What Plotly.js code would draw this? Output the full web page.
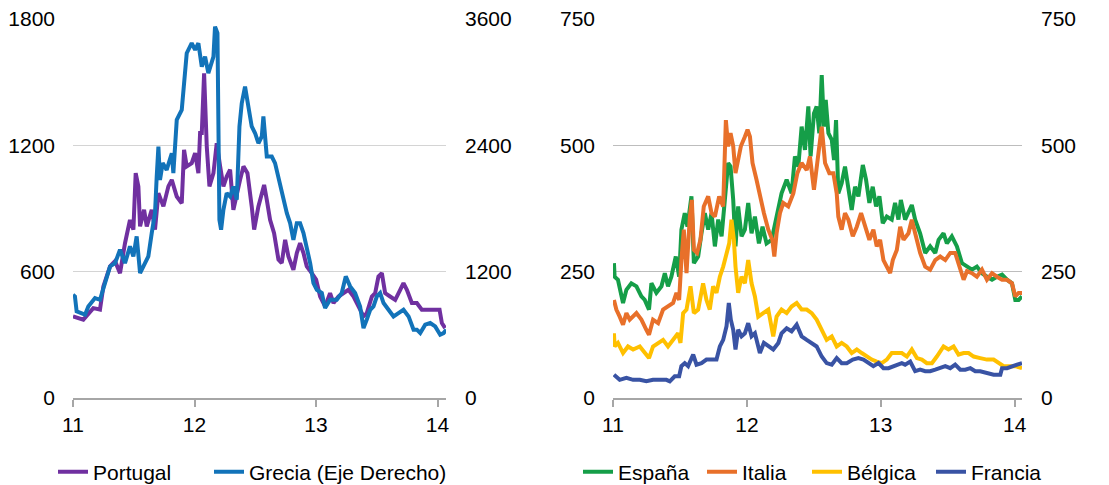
<!DOCTYPE html>
<html>
<head>
<meta charset="utf-8">
<script src="https://cdn.plot.ly/plotly-3.0.1.min.js"></script>
<style>html,body{margin:0;padding:0;background:#fff;}#chart{width:1109px;height:485px;}</style>
</head>
<body>
<div id="chart"></div>
<script>
// ---- Left panel: Portugal (left axis) and Grecia (right axis) ----
const portugalX = [11.000,11.085,11.167,11.222,11.250,11.305,11.346,11.387,11.428,11.469,11.497,11.516,11.538,11.552,11.585,11.607,11.648,11.675,11.703,11.744,11.785,11.813,11.854,11.895,11.914,11.936,11.977,12.005,12.032,12.046,12.060,12.079,12.101,12.123,12.156,12.183,12.211,12.238,12.265,12.293,12.320,12.348,12.375,12.403,12.436,12.471,12.491,12.526,12.573,12.595,12.622,12.655,12.691,12.718,12.746,12.773,12.814,12.842,12.869,12.897,12.924,12.965,13.001,13.034,13.075,13.116,13.144,13.185,13.226,13.267,13.309,13.350,13.391,13.418,13.460,13.487,13.514,13.542,13.569,13.610,13.652,13.693,13.720,13.748,13.789,13.830,13.871,13.912,13.967,14.017,14.036,14.063];
const portugalY = [388,372,427,420,530,625,650,593,735,846,800,1068,1005,815,894,815,894,800,973,910,1005,1036,957,925,1179,1100,1115,1163,1068,1258,1258,1542,1194,1005,1068,1210,1100,1005,1052,1084,894,973,1036,1100,1068,910,800,910,1012,941,846,783,657,641,751,672,609,688,735,688,625,593,562,482,435,498,451,482,498,514,482,435,388,403,482,498,577,593,498,482,466,514,546,514,451,451,419,419,419,419,356,332];

const greciaX = [11.000,11.016,11.030,11.071,11.099,11.126,11.181,11.222,11.277,11.305,11.346,11.387,11.428,11.469,11.497,11.524,11.552,11.593,11.620,11.648,11.675,11.689,11.703,11.716,11.738,11.771,11.799,11.813,11.826,11.854,11.895,11.909,11.936,11.977,12.005,12.032,12.060,12.087,12.114,12.156,12.169,12.189,12.200,12.205,12.219,12.238,12.265,12.293,12.320,12.348,12.370,12.389,12.416,12.444,12.471,12.499,12.526,12.554,12.567,12.595,12.636,12.663,12.705,12.732,12.760,12.787,12.814,12.842,12.869,12.897,12.924,12.952,12.979,13.007,13.048,13.075,13.116,13.171,13.212,13.245,13.281,13.322,13.363,13.391,13.418,13.446,13.473,13.501,13.528,13.556,13.597,13.638,13.679,13.720,13.762,13.803,13.830,13.858,13.899,13.940,13.981,14.022,14.050,14.072];
const greciaY = [981,965,823,807,791,870,949,933,1155,1250,1281,1408,1281,1440,1345,1535,1186,1281,1345,1566,1756,2104,2389,2072,2231,2167,2294,2325,2136,2642,2737,2958,3275,3370,3306,3370,3148,3243,3085,3243,3528,3465,2515,1693,1598,1788,1946,1914,2009,1883,2579,2800,2958,2769,2579,2515,2420,2484,2674,2294,2294,2231,2009,1883,1756,1661,1503,1661,1661,1566,1440,1281,1092,1028,997,854,933,933,997,1155,1060,997,870,664,744,838,870,965,997,902,838,775,807,838,775,649,649,617,696,712,680,601,617,649];

// ---- Right panel: España, Italia, Bélgica, Francia ----
const espanaX = [11.007,11.012,11.037,11.075,11.100,11.137,11.175,11.212,11.237,11.269,11.287,11.324,11.362,11.387,11.411,11.436,11.469,11.494,11.511,11.536,11.556,11.586,11.604,11.636,11.661,11.686,11.711,11.736,11.761,11.786,11.811,11.835,11.860,11.878,11.898,11.915,11.935,11.960,11.985,12.010,12.035,12.060,12.090,12.117,12.147,12.185,12.222,12.259,12.297,12.334,12.359,12.384,12.409,12.434,12.459,12.476,12.501,12.521,12.541,12.559,12.576,12.589,12.609,12.634,12.651,12.666,12.683,12.708,12.733,12.758,12.783,12.808,12.833,12.866,12.890,12.915,12.940,12.965,12.990,13.015,13.045,13.082,13.107,13.132,13.150,13.182,13.207,13.232,13.257,13.294,13.332,13.369,13.407,13.432,13.469,13.494,13.531,13.569,13.606,13.644,13.681,13.718,13.756,13.793,13.831,13.868,13.906,13.943,13.980,14.005,14.030,14.055];
const espanaY = [267,240,234,188,214,227,221,201,194,175,227,208,221,247,221,240,280,240,333,366,339,399,267,280,326,366,333,366,300,353,320,386,465,458,392,300,379,320,333,386,326,359,306,339,306,313,359,405,432,405,478,458,537,491,577,478,563,577,524,639,537,590,524,511,471,550,405,425,458,418,372,418,399,461,432,386,418,379,399,346,359,353,386,353,392,353,366,382,353,326,287,300,287,313,326,306,320,300,267,260,254,260,247,240,234,240,244,234,227,194,194,201];

const italiaX = [11.007,11.025,11.050,11.075,11.100,11.125,11.175,11.212,11.249,11.269,11.299,11.337,11.374,11.411,11.449,11.474,11.494,11.511,11.529,11.549,11.574,11.589,11.604,11.628,11.653,11.678,11.711,11.736,11.761,11.793,11.823,11.843,11.860,11.878,11.898,11.915,11.935,11.955,11.985,12.005,12.023,12.042,12.072,12.097,12.127,12.160,12.190,12.205,12.222,12.247,12.272,12.309,12.347,12.377,12.409,12.447,12.471,12.501,12.526,12.559,12.584,12.616,12.646,12.671,12.683,12.708,12.733,12.758,12.791,12.821,12.853,12.883,12.915,12.945,12.970,12.995,13.020,13.045,13.070,13.090,13.120,13.145,13.170,13.207,13.232,13.257,13.294,13.332,13.369,13.407,13.444,13.482,13.519,13.556,13.589,13.619,13.644,13.681,13.718,13.756,13.793,13.831,13.868,13.906,13.943,13.980,14.005,14.030,14.055];
const italiaY = [194,175,161,145,168,155,168,155,135,125,155,148,175,181,188,208,194,273,333,247,359,392,293,287,313,379,399,366,359,399,379,550,498,524,498,445,471,498,517,531,517,465,432,399,366,333,313,280,326,366,386,379,405,445,465,451,478,412,471,537,465,445,445,405,359,333,366,353,320,339,366,339,313,333,300,313,273,260,247,273,293,339,313,326,353,326,287,260,254,273,280,273,287,287,260,234,251,247,240,254,234,247,240,234,234,227,201,208,208];

const belgicaX = [11.007,11.012,11.037,11.075,11.112,11.150,11.200,11.237,11.269,11.299,11.337,11.374,11.411,11.449,11.486,11.504,11.524,11.549,11.579,11.604,11.636,11.673,11.698,11.723,11.748,11.773,11.798,11.823,11.848,11.868,11.885,11.903,11.915,11.935,11.960,11.985,12.010,12.035,12.060,12.085,12.122,12.160,12.197,12.222,12.259,12.297,12.334,12.372,12.409,12.447,12.484,12.521,12.559,12.596,12.634,12.671,12.708,12.746,12.783,12.821,12.858,12.895,12.933,12.970,13.008,13.045,13.082,13.120,13.157,13.195,13.232,13.270,13.307,13.344,13.382,13.419,13.469,13.506,13.544,13.581,13.619,13.656,13.694,13.743,13.793,13.843,13.881,13.918,13.968,14.005,14.055];
const belgicaY = [128,102,109,89,102,96,102,89,79,102,109,115,102,115,128,109,168,175,221,168,175,227,194,175,221,208,240,260,287,306,353,313,260,208,240,227,273,227,201,161,168,175,122,161,175,168,181,188,175,175,168,155,135,115,122,102,109,102,89,96,89,82,76,72,69,76,89,89,89,82,96,79,76,69,69,82,102,96,102,86,89,89,82,79,76,76,69,63,63,63,59];

const franciaX = [11.007,11.050,11.100,11.150,11.200,11.249,11.299,11.349,11.399,11.424,11.461,11.494,11.511,11.536,11.561,11.599,11.624,11.661,11.698,11.736,11.773,11.798,11.823,11.848,11.865,11.880,11.898,11.915,11.935,11.960,11.985,12.010,12.035,12.060,12.097,12.127,12.160,12.197,12.235,12.259,12.297,12.334,12.372,12.409,12.447,12.484,12.521,12.559,12.596,12.634,12.671,12.708,12.746,12.791,12.833,12.871,12.908,12.945,12.983,13.020,13.058,13.095,13.132,13.157,13.182,13.220,13.257,13.294,13.332,13.369,13.407,13.444,13.482,13.519,13.556,13.594,13.631,13.669,13.706,13.743,13.793,13.843,13.893,13.906,13.943,13.980,14.018,14.055];
const franciaY = [46,36,40,36,36,33,36,36,36,33,43,43,63,69,63,86,66,69,76,76,76,102,115,142,188,155,135,96,135,122,128,148,122,128,89,109,102,96,109,128,138,132,145,122,115,109,102,82,69,66,79,69,69,76,79,76,69,63,69,59,59,63,66,69,66,72,53,56,53,53,56,59,63,59,66,56,56,59,53,53,49,46,46,59,59,63,66,69];

const leftTicksY = [0, 600, 1200, 1800];
const leftTicksY2 = [0, 1200, 2400, 3600];
const rightTicksY = [0, 250, 500, 750];
const xTicks = [11, 12, 13, 14];
const xTickText = ['11', '12', '13', '14'];

const FONT = 'Liberation Sans, Arial, sans-serif';
const FS = 21;
const W = 1109, H = 485;

function line(x, y, name, color, xa, ya, legend) {
  return {x: x, y: y, name: name, type: 'scatter', mode: 'lines',
    line: {color: color, width: 4, shape: 'linear'},
    xaxis: xa, yaxis: ya, legend: legend, hoverinfo: 'skip'};
}

const traces = [
  line(portugalX, portugalY, 'Portugal', '#7030A0', 'x', 'y', 'legend'),
  line(greciaX, greciaY, 'Grecia (Eje Derecho)', '#1273B9', 'x', 'y2', 'legend2'),
  line(espanaX, espanaY, 'España', '#159E48', 'x2', 'y3', 'legend3'),
  line(italiaX, italiaY, 'Italia', '#E8702A', 'x2', 'y3', 'legend4'),
  line(belgicaX, belgicaY, 'Bélgica', '#FFC000', 'x2', 'y3', 'legend5'),
  line(franciaX, franciaY, 'Francia', '#3953A4', 'x2', 'y4', 'legend6')
];

const yDom = [(H - 398) / H, (H - 19) / H];
const xAxisCommon = {
  tickmode: 'array', tickvals: xTicks, ticktext: xTickText,
  showgrid: false, zeroline: false, showline: true, linecolor: '#A6A6A6', linewidth: 2,
  ticks: 'outside', ticklen: 7, tickwidth: 2, tickcolor: '#A6A6A6', ticklabelstandoff: 0,
  tickfont: {family: FONT, size: FS, color: '#000'}, fixedrange: true
};
const yCommon = {
  showline: false, zeroline: false, ticks: '', anchor: 'free',
  tickfont: {family: FONT, size: FS, color: '#000'}, ticklabelstandoff: 18, fixedrange: true
};

function leg(xpx) {
  return {orientation: 'h', x: xpx / W, y: 13 / H, xanchor: 'left', yanchor: 'middle',
    itemwidth: 30, itemclick: false, itemdoubleclick: false,
    font: {family: FONT, size: FS, color: '#000'}, bgcolor: 'rgba(0,0,0,0)'};
}

const layout = {
  width: W, height: H,
  margin: {l: 0, r: 0, t: 0, b: 0, autoexpand: false},
  paper_bgcolor: '#fff', plot_bgcolor: 'rgba(0,0,0,0)',
  font: {family: FONT, size: FS, color: '#000'},
  xaxis: Object.assign({}, xAxisCommon, {domain: [73 / W, 446 / W], range: [11, 14.07], anchor: 'y'}),
  xaxis2: Object.assign({}, xAxisCommon, {domain: [613 / W, 1022 / W], range: [11, 14.055], anchor: 'y3'}),
  yaxis: Object.assign({}, yCommon, {domain: yDom, range: [0, 1800], tickmode: 'array', tickvals: leftTicksY,
    showgrid: true, gridcolor: '#D4D4D4', gridwidth: 1.5, side: 'left', position: 73 / W}),
  yaxis2: Object.assign({}, yCommon, {domain: yDom, range: [0, 3600], tickmode: 'array', tickvals: leftTicksY2,
    showgrid: false, side: 'right', overlaying: 'y', position: 446 / W}),
  yaxis3: Object.assign({}, yCommon, {domain: yDom, range: [0, 750], tickmode: 'array', tickvals: rightTicksY,
    showgrid: true, gridcolor: '#BDBDBD', gridwidth: 1.5, side: 'left', position: 613 / W}),
  yaxis4: Object.assign({}, yCommon, {domain: yDom, range: [0, 750], tickmode: 'array', tickvals: rightTicksY,
    showgrid: false, side: 'right', overlaying: 'y3', position: 1022 / W}),
  showlegend: true,
  legend: leg(53), legend2: leg(209), legend3: leg(578),
  legend4: leg(702), legend5: leg(807), legend6: leg(931)
};

Plotly.newPlot('chart', traces, layout, {staticPlot: true, displayModeBar: false});
</script>
</body>
</html>
